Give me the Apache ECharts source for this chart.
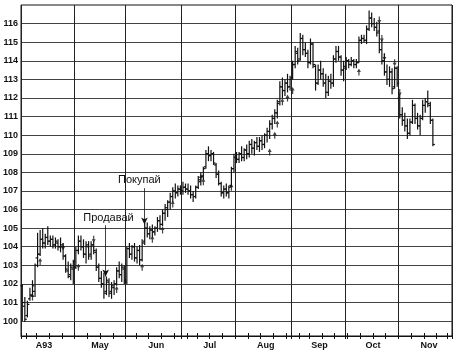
<!DOCTYPE html>
<html><head><meta charset="utf-8">
<script src="https://cdn.jsdelivr.net/npm/echarts@6/dist/echarts.min.js"></script>
<style>html,body{margin:0;padding:0;background:#fff}#c{width:454px;height:352px}</style>
</head><body><div id="c"></div>
<script>
// Month labels (x positions are trading-day indices from 1 Apr 1993)
const monthNames = ['A93','May','Jun','Jul','Aug','Sep','Oct','Nov'];
const monthLabelPos = [9,31,53,74,96,117,138,160];
const monthStarts = [0,21,41,63,84,106,127,148,169];
const weekTicks = [2,6,11,16,26,31,36,45,50,55,60,65,69,74,79,89,94,99,104,109,113,118,123,128,133,138,143,153,158,163,167];
const yTicks = [100,101,102,103,104,105,106,107,108,109,110,111,112,113,114,115,116];

// Daily OHLC (one value per trading day)
const open = [
 101.9,100.8,100.3,101.2,101.4,101.6,103.4,103.6,104.4,104.2,104.5,104.3,104.4,104.1,104.2,104.0,104.0,103.5,102.7,102.5,102.8,
 102.9,103.8,104.3,104.0,103.6,104.0,103.6,104.1,103.7,102.9,102.3,102.0,101.6,102.1,101.6,101.8,102.0,102.7,102.5,102.8,
 102.1,103.9,103.6,104.0,103.4,103.8,103.3,104.3,105.0,104.7,104.9,104.8,105.0,105.4,105.2,105.8,106.0,106.4,106.7,107.0,106.9,107.1,
 107.0,107.2,107.1,107.0,106.8,106.7,107.2,107.5,107.8,108.3,109.0,108.9,109.0,108.4,107.9,107.4,106.9,107.1,106.9,107.3,108.2,
 108.8,108.7,109.0,108.8,109.2,109.0,109.5,109.3,109.6,109.4,109.7,109.5,110.0,110.2,110.6,110.9,111.2,111.8,112.6,112.4,112.8,112.6,
 113.1,113.8,114.4,114.1,115.2,114.6,114.4,113.9,114.9,113.7,112.8,113.5,113.3,112.8,112.3,112.9,112.8,114.1,114.5,114.2,113.5,
 113.6,114.0,113.8,114.0,113.8,113.9,115.1,115.2,115.1,115.7,116.3,116.0,115.8,115.6,114.6,114.0,113.4,113.0,113.4,112.6,113.6,
 112.0,111.1,110.8,110.5,110.1,110.7,111.6,110.9,110.5,110.9,111.6,111.8,111.6,110.8];
const high = [
 102.0,101.3,101.1,101.8,102.2,103.1,104.75,104.9,105.0,104.7,105.1,104.6,104.6,104.5,104.4,104.5,104.2,103.6,103.2,103.1,103.3,
 104.0,104.6,104.6,104.4,104.3,104.3,104.3,104.3,103.9,103.1,102.7,102.6,102.4,102.3,102.1,102.2,102.9,103.2,103.1,103.0,
 104.0,104.2,104.1,104.2,104.0,104.1,104.4,105.3,105.3,105.1,105.2,105.1,105.6,105.7,106.0,106.3,106.5,106.9,107.2,107.4,107.3,107.3,
 107.5,107.4,107.4,107.3,107.0,107.3,107.8,108.0,108.3,109.2,109.4,109.2,109.1,108.5,108.1,107.5,107.3,107.4,107.3,108.3,109.0,
 109.1,109.1,109.4,109.3,109.5,109.7,109.8,109.7,109.9,109.9,110.0,110.1,110.4,110.8,111.1,111.4,111.9,112.9,113.1,113.0,113.3,113.2,
 114.0,114.8,114.7,115.5,115.4,115.0,114.6,115.2,115.0,113.8,113.8,114.0,113.6,113.3,113.2,113.3,114.3,114.8,114.8,114.3,114.0,
 114.2,114.1,114.2,114.1,114.1,115.3,115.4,115.4,115.9,116.7,116.6,116.3,116.1,116.1,115.1,114.4,113.8,113.7,113.6,113.7,113.7,
 112.2,111.5,111.2,110.9,110.9,111.9,111.7,111.2,111.1,111.9,112.0,112.4,111.8,110.9];
const low = [
 100.0,99.95,100.2,101.1,101.3,101.3,102.9,103.5,103.9,103.9,104.1,104.0,103.9,103.9,103.8,103.7,103.3,102.6,102.3,102.2,102.0,
 102.8,103.6,103.8,103.4,103.1,103.3,103.3,103.6,102.7,102.1,101.8,101.2,101.4,101.3,101.2,101.4,101.9,102.3,102.1,102.0,
 102.0,103.4,103.3,103.2,103.1,103.0,103.2,104.1,104.5,104.4,104.5,104.6,104.8,104.9,105.1,105.4,105.6,106.0,106.4,106.6,106.7,106.8,
 106.8,106.9,106.8,106.6,106.4,106.6,107.1,107.3,107.6,108.2,108.6,108.6,108.4,107.7,107.3,106.7,106.6,106.7,106.6,107.2,108.0,
 108.5,108.5,108.6,108.6,108.7,108.8,109.0,108.9,109.2,109.1,109.2,109.3,109.6,109.8,110.3,110.6,110.9,111.6,112.0,112.1,112.3,112.4,
 113.0,113.6,113.8,114.0,114.3,114.2,113.6,113.8,113.6,112.4,112.7,113.0,112.6,112.0,112.1,112.5,112.6,113.9,114.0,113.2,112.9,
 113.5,113.6,113.7,113.6,113.6,113.9,114.9,115.0,114.9,115.6,115.8,115.6,115.3,114.4,113.8,113.2,112.7,112.6,112.2,112.5,112.6,
 110.9,110.5,110.2,109.8,110.0,110.6,110.6,110.3,110.0,110.8,111.2,111.5,110.6,109.4];
const close = [
 101.0,100.1,100.9,101.4,101.9,103.0,103.6,104.4,104.2,104.5,104.3,104.4,104.1,104.3,104.0,104.1,103.5,102.8,102.4,102.9,103.2,
 103.8,104.3,104.0,103.6,104.1,103.5,104.1,103.8,102.9,102.3,102.0,101.5,102.2,101.5,101.9,102.0,102.7,102.5,102.9,102.2,
 103.9,103.6,104.0,103.4,103.8,103.3,104.2,105.0,104.7,104.9,104.8,105.0,105.4,105.2,105.8,106.1,106.4,106.7,107.0,106.9,107.1,107.0,
 107.2,107.1,107.0,106.8,106.7,107.2,107.6,107.8,108.2,109.0,108.9,109.0,108.5,107.9,107.4,106.9,107.1,106.9,107.2,108.2,108.8,
 108.7,109.0,108.8,109.2,109.0,109.5,109.3,109.6,109.4,109.7,109.5,110.0,110.2,110.6,110.9,111.2,111.7,112.6,112.4,112.8,112.6,113.0,
 113.8,114.5,114.0,115.2,114.6,114.4,113.9,114.9,113.8,112.8,113.5,113.3,112.8,112.3,112.9,112.8,114.1,114.5,114.2,113.5,113.7,
 114.0,113.8,114.0,113.8,113.9,115.1,115.2,115.1,115.7,116.3,116.0,115.8,115.5,114.6,114.0,113.4,113.0,113.4,112.5,113.6,112.8,
 111.1,110.8,110.5,110.1,110.7,111.6,110.9,110.5,110.9,111.6,111.8,111.7,110.8,109.5];

// Small signal arrows drawn on the chart
const upIdx = [4,7,22,37,47,51,55,59,70,71,82,97,99,100,102,104,106,132];
const upVal = [101.3,103.2,102.9,101.7,102.9,104.4,104.9,106.3,107.7,107.5,107.2,109.1,110.0,110.6,111.8,112.0,112.4,113.4];
const downIdx = [16,28,140,141,142,146,148];
const downVal = [104.0,104.4,116.2,115.2,114.2,113.9,112.3];

// Annotations
const annotText = ['Продавай','Покупай'];
const annotX = [34.3,46.4];
const annotY = [105.55,107.6];
const arrowX = [33.2,48.4];
const arrowFrom = [105.15,107.15];
const arrowTo = [102.4,105.2];

const FONT = '"Liberation Sans", Arial, sans-serif';
const bars = open.map((o,i)=>[i+0.5,o,high[i],low[i],close[i]]);
const ARROW = 'path://M5,0 L10,6 L6.5,6 L6.5,12 L3.5,12 L3.5,6 L0,6 Z';

const chart = echarts.init(document.getElementById('c'), null, {renderer:'canvas'});
const barStyle = {stroke:'#111', lineWidth:1.2};
chart.setOption({
  animation:false,
  backgroundColor:'#fff',
  grid:{left:19,right:2,top:5,bottom:16,show:true,borderColor:'#111',borderWidth:1},
  xAxis:[
    {type:'value',min:0,max:169,position:'bottom',
     axisLine:{show:true,onZero:false,lineStyle:{color:'#111',width:1}},
     axisTick:{show:true,customValues:weekTicks.concat(monthStarts),length:3,lineStyle:{color:'#111'}},
     axisLabel:{customValues:monthLabelPos,formatter:v=>monthNames[monthLabelPos.indexOf(v)],
                fontSize:9,fontWeight:'bold',color:'#111',fontFamily:FONT,margin:5},
     splitLine:{show:false}},
    {type:'value',min:0,max:169,position:'bottom',
     axisLine:{show:false},axisTick:{show:false,customValues:monthStarts},axisLabel:{show:false},
     splitLine:{show:true,lineStyle:{color:'#222',width:1}}},
    {type:'value',min:0,max:169,position:'bottom',
     axisLine:{show:false},axisTick:{show:true,inside:true,length:3,customValues:weekTicks.concat(monthStarts),lineStyle:{color:'#111'}},
     axisLabel:{show:false},splitLine:{show:false}}
  ],
  yAxis:{type:'value',min:99.2,max:117,
    axisLine:{show:false},axisTick:{show:false,customValues:yTicks},
    axisLabel:{customValues:yTicks,fontSize:9,fontWeight:'bold',color:'#111',fontFamily:FONT,margin:3},
    splitLine:{show:true,lineStyle:{color:'#444',width:1}}},
  series:[
    {type:'custom',xAxisIndex:0,yAxisIndex:0,data:bars,encode:{x:0,y:[1,2,3,4]},z:3,
     renderItem:function(params,api){
       const x=api.value(0);
       const o=api.coord([x,api.value(1)]), h=api.coord([x,api.value(2)]),
             l=api.coord([x,api.value(3)]), c=api.coord([x,api.value(4)]);
       const w=2;
       return {type:'group',children:[
         {type:'line',shape:{x1:h[0],y1:h[1],x2:l[0],y2:l[1]},style:barStyle},
         {type:'line',shape:{x1:o[0]-w,y1:o[1],x2:o[0],y2:o[1]},style:barStyle},
         {type:'line',shape:{x1:c[0],y1:c[1],x2:c[0]+w,y2:c[1]},style:barStyle}
       ]};
     }},
    {type:'scatter',xAxisIndex:0,yAxisIndex:0,z:4,symbol:ARROW,symbolSize:[4,7],
     itemStyle:{color:'#111'},data:upIdx.map((d,i)=>[d+0.5,upVal[i]]),
     markLine:{silent:true,symbol:['none','arrow'],symbolSize:[5,7],
       lineStyle:{color:'#111',width:0.8,type:'solid'},label:{show:false},
       data:arrowX.map((x,i)=>[{coord:[x,arrowFrom[i]]},{coord:[x,arrowTo[i]]}])},
     markPoint:{silent:true,symbol:'circle',symbolSize:1,itemStyle:{color:'rgba(0,0,0,0)'},
       label:{show:true,position:'inside',formatter:'{b}',color:'#111',fontSize:11,fontFamily:FONT},
       data:annotText.map((t,i)=>({name:t,coord:[annotX[i],annotY[i]]}))}},
    {type:'scatter',xAxisIndex:0,yAxisIndex:0,z:4,symbol:ARROW,symbolSize:[4,7],symbolRotate:180,
     itemStyle:{color:'#111'},data:downIdx.map((d,i)=>[d+0.5,downVal[i]])}
  ]
});
</script></body></html>
